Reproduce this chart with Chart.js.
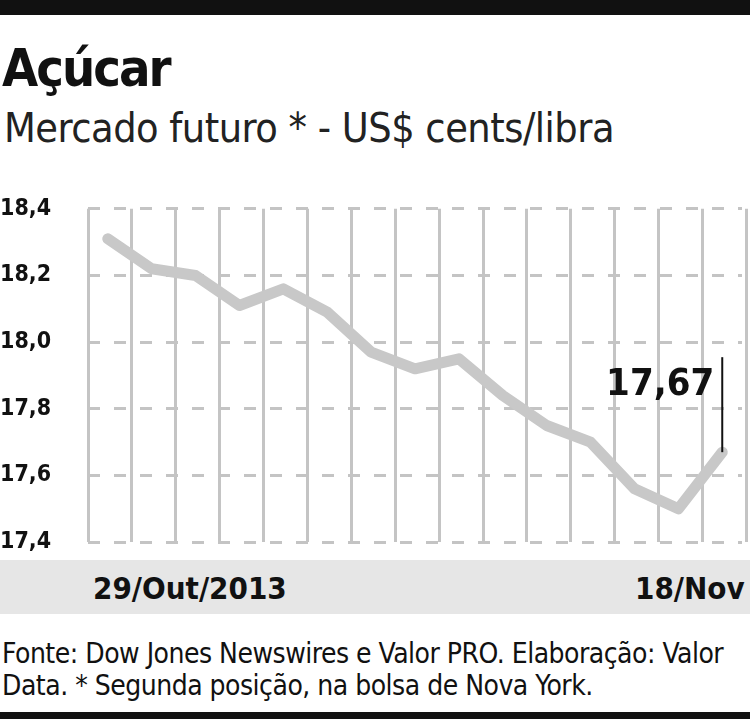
<!DOCTYPE html>
<html><head><meta charset="utf-8">
<script src="https://cdn.jsdelivr.net/npm/chart.js@4"></script>
<style>
body{margin:0;width:750px;height:719px;background:#fff;position:relative;overflow:hidden;font-family:"DejaVu Sans Condensed","Liberation Sans Narrow",sans-serif;}
.bar{position:absolute;left:0;width:750px;background:#111;}
#title{position:absolute;left:2px;top:38px;font-size:52px;font-weight:bold;letter-spacing:-2px;color:#111;}
#sub{position:absolute;left:4px;top:104px;font-size:41px;color:#222;letter-spacing:-0.5px;}
#band{position:absolute;left:0;top:560px;width:750px;height:54px;background:#e6e6e6;}
.lbl{position:absolute;top:570px;font-size:31px;font-weight:bold;color:#111;}
#foot{position:absolute;left:2px;top:638px;font-size:28px;line-height:32px;color:#111;letter-spacing:-0.5px;white-space:nowrap;}
#wrap{position:absolute;left:0;top:181px;width:750px;height:389px;}
</style></head><body>
<div class="bar" style="top:0;height:15px"></div>
<div id="title">Açúcar</div>
<div id="sub">Mercado futuro * - US$ cents/libra</div>
<div id="band"></div>
<div class="lbl" style="left:93px">29/Out/2013</div>
<div class="lbl" style="left:635px">18/Nov</div>
<div id="foot">Fonte: Dow Jones Newswires e Valor PRO. Elaboração: Valor<br>Data. * Segunda posição, na bolsa de Nova York.</div>
<div class="bar" style="top:712px;height:7px"></div>
<div id="wrap"><canvas id="c"></canvas></div>
<script>
const dates=["29/Out","30/Out","31/Out","01/Nov","04/Nov","05/Nov","06/Nov","07/Nov","08/Nov","11/Nov","12/Nov","13/Nov","14/Nov","15/Nov","18/Nov"];
const prices=[18.31,18.22,18.20,18.11,18.16,18.09,17.97,17.92,17.95,17.84,17.75,17.70,17.56,17.50,17.67];
const yTicks=[17.4,17.6,17.8,18.0,18.2,18.4];
const lastLabel="17,67";
const pts=prices.map((v,i)=>({x:i,y:v}));
const annot={id:'annot',afterDatasetsDraw(ch){
 const c=ch.ctx,xs=ch.scales.x,ys=ch.scales.y;
 const x=xs.getPixelForValue(prices.length-1),y=ys.getPixelForValue(prices[prices.length-1]);
 c.save();c.strokeStyle='#111';c.lineWidth=2;c.beginPath();c.moveTo(x,y);c.lineTo(x,y-95);c.stroke();
 c.fillStyle='#111';c.font='bold 38px "DejaVu Sans Condensed", sans-serif';c.textAlign='right';c.textBaseline='alphabetic';
 c.fillText(lastLabel,x-8,y-57);c.restore();}};
new Chart(document.getElementById('c'),{type:'line',
 data:{datasets:[{data:pts,borderColor:'#c8c8c8',borderWidth:11,pointRadius:0,tension:0,borderJoinStyle:'round',borderCapStyle:'round'}]},
 options:{responsive:true,maintainAspectRatio:false,animation:false,
  layout:{padding:{top:18,right:8,bottom:9,left:0}},
  plugins:{legend:{display:false},tooltip:{enabled:false}},
  scales:{
   x:{type:'linear',min:-0.45,max:14.45,
    afterBuildTicks(s){s.ticks=[];for(let k=0;k<=15;k++)s.ticks.push({value:-0.45+k});},
    ticks:{display:false},border:{display:false,dash:[]},
    grid:{color:'#c4c4c4',lineWidth:3,drawTicks:false},afterFit(s){s.height=0;}},
   y:{min:17.4,max:18.4,
    afterBuildTicks(s){s.ticks=yTicks.map(v=>({value:v}));},
    afterFit(s){s.width=88;},
    border:{display:false,dash:[12,14]},
    grid:{color:'#c4c4c4',lineWidth:3,drawTicks:false},
    ticks:{padding:14,color:'#111',font:{family:'"DejaVu Sans Condensed", sans-serif',size:23,weight:'bold'},
     callback:v=>v.toFixed(1).replace('.',','),crossAlign:'far'}}
  }},plugins:[annot]});
</script></body></html>
